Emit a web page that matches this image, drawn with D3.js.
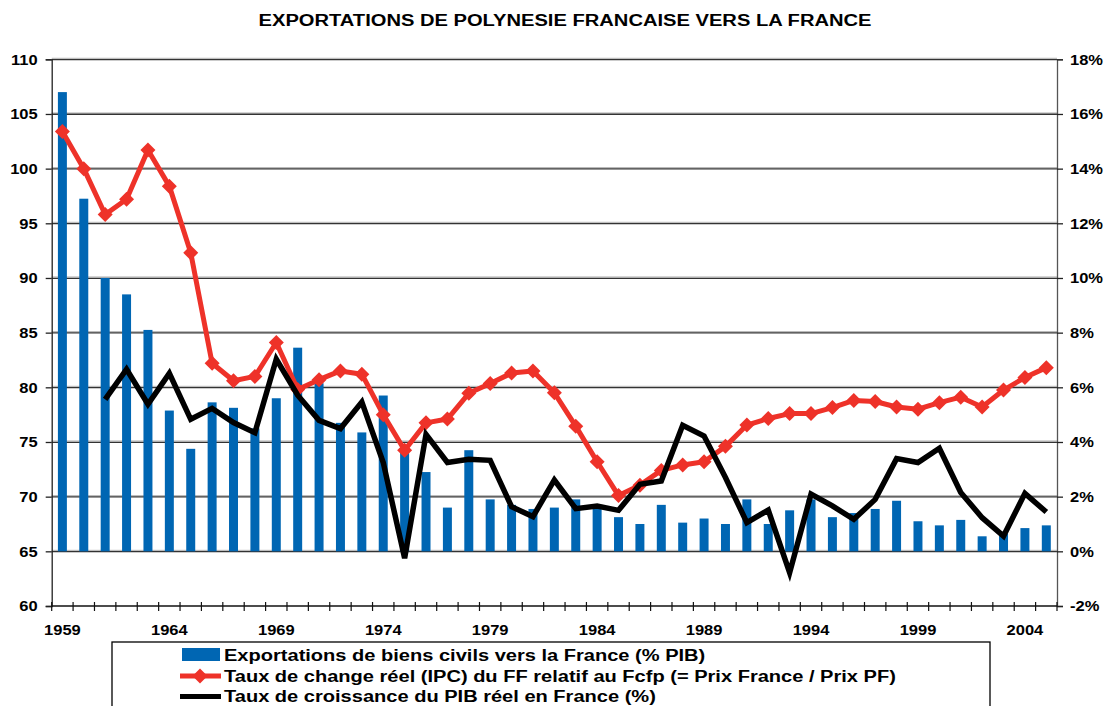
<!DOCTYPE html>
<html>
<head>
<meta charset="utf-8">
<script src="https://cdn.jsdelivr.net/npm/d3@7"></script>
<style>
  body { margin: 0; background: #fff; }
  svg { font-family: "Liberation Sans", Arial, sans-serif; font-weight: bold; }
</style>
</head>
<body>
<svg id="chart" width="1105" height="706"></svg>
<script>
// Years shown on the category axis
var years = d3.range(1959, 2006);
var yearLabels = [1959, 1964, 1969, 1974, 1979, 1984, 1989, 1994, 1999, 2004];

// Exportations de biens civils vers la France (% PIB) - right axis
var exportsPct = [16.8, 12.9, 10.0, 9.4, 8.1, 5.15, 3.75, 5.45, 5.25, 4.5,
  5.6, 7.45, 6.15, 4.7, 4.35, 5.7, 3.7, 2.9, 1.6, 3.7,
  1.9, 1.7, 1.55, 1.6, 1.9, 1.6, 1.25, 1.0, 1.7, 1.05,
  1.2, 1.0, 1.9, 1.0, 1.5, 1.9, 1.25, 1.4, 1.55, 1.85,
  1.1, 0.95, 1.15, 0.55, 0.65, 0.85, 0.95];

// Taux de change reel (IPC) du FF relatif au Fcfp - left axis
var changeReel = [103.4, 100.0, 95.8, 97.2, 101.7, 98.4, 92.3, 82.2, 80.6, 81.0,
  84.1, 79.8, 80.7, 81.5, 81.2, 77.5, 74.25, 76.75, 77.1, 79.45,
  80.35, 81.3, 81.5, 79.5, 76.45, 73.2, 70.1, 71.05, 72.4, 72.9,
  73.2, 74.6, 76.55, 77.15, 77.6, 77.6, 78.15, 78.8, 78.7, 78.2,
  78.0, 78.6, 79.1, 78.2, 79.75, 80.9, 81.8];

// Taux de croissance du PIB reel en France (%) - right axis, from 1961
var croissanceYears = d3.range(1961, 2006);
var croissancePIB = [5.56, 6.66, 5.38, 6.51, 4.83, 5.23, 4.71, 4.34, 7.03, 5.71,
  4.79, 4.49, 5.46, 3.25, -0.25, 4.28, 3.25, 3.37, 3.33, 1.63,
  1.27, 2.61, 1.56, 1.66, 1.5, 2.45, 2.57, 4.61, 4.22, 2.7,
  1.05, 1.51, -0.78, 2.09, 1.66, 1.17, 1.9, 3.39, 3.25, 3.77,
  2.15, 1.23, 0.56, 2.12, 1.44];

var leftTicks = d3.range(60, 111, 5);
var rightTicks = d3.range(-2, 19, 2);

var seriesNames = [
  "Exportations de biens civils vers la France (% PIB)",
  "Taux de change réel (IPC) du FF relatif au Fcfp (= Prix France / Prix PF)",
  "Taux de croissance du PIB réel en France (%)"
];

var BLUE = "#0066b3", RED = "#ee3229";

var svg = d3.select("#chart");
var m = { left: 51.7, right: 1057, top: 59.3, bottom: 606 };

var x = d3.scaleBand()
    .domain(years)
    .range([m.left, m.right])
    .paddingInner(0.58)
    .paddingOuter(0.29);
var step = x.step();
function cx(yr) { return x(yr) + x.bandwidth() / 2; }

var yL = d3.scaleLinear().domain([60, 110]).range([m.bottom, m.top]);
var yR = d3.scaleLinear().domain([-2, 18]).range([m.bottom, m.top]);

// The original text is a bit wider than the font, stretch it horizontally
function stretch(sel, k) {
  sel.each(function() {
    var t = d3.select(this);
    var tx = +t.attr("x") || 0, ty = +t.attr("y") || 0;
    t.attr("x", 0).attr("y", 0)
     .attr("transform", "translate(" + tx + "," + ty + ") scale(" + k + ",1)");
  });
}

// Title
svg.append("text")
    .attr("class", "title")
    .attr("x", 565).attr("y", 26)
    .attr("text-anchor", "middle")
    .style("font-size", "17px")
    .text("EXPORTATIONS DE POLYNESIE FRANCAISE VERS LA FRANCE");
stretch(svg.selectAll(".title"), 1.185);

// Gridlines (light shadow + dark line)
var grid = svg.append("g");
leftTicks.filter(function(t) { return t > 60; }).forEach(function(t) {
  grid.append("line")
      .attr("x1", m.left).attr("x2", m.right)
      .attr("y1", yL(t) - 1).attr("y2", yL(t) - 1)
      .attr("stroke", "#b0b0b0").attr("stroke-width", 1);
  grid.append("line")
      .attr("x1", m.left).attr("x2", m.right)
      .attr("y1", yL(t) + 0.3).attr("y2", yL(t) + 0.3)
      .attr("stroke", "#333").attr("stroke-width", 1.3);
});

// Left axis
var gL = svg.append("g")
    .attr("transform", "translate(" + m.left + ",0)")
    .call(d3.axisLeft(yL).tickValues(leftTicks).tickSize(6).tickPadding(8));
gL.selectAll("text").style("font-size", "15px").attr("fill", "#000")
    .style("font-family", "Liberation Sans, Arial, sans-serif");
stretch(gL.selectAll("text"), 1.1);
gL.select(".domain").attr("stroke", "#222").attr("stroke-width", 1.3);
gL.selectAll(".tick line").attr("stroke", "#222").attr("stroke-width", 1.3);

// Right axis
var gR = svg.append("g")
    .attr("transform", "translate(" + m.right + ",0)")
    .call(d3.axisRight(yR).tickValues(rightTicks).tickSize(6).tickPadding(7)
      .tickFormat(function(d) { return d + "%"; }));
gR.selectAll("text").style("font-size", "15px").attr("fill", "#000")
    .style("font-family", "Liberation Sans, Arial, sans-serif");
stretch(gR.selectAll("text"), 1.1);
gR.select(".domain").attr("stroke", "#555").attr("stroke-width", 1.3);
gR.selectAll(".tick line").attr("stroke", "#222").attr("stroke-width", 1.3);

// Bars (right axis, baseline 0%)
svg.append("g").selectAll("rect")
    .data(years)
    .enter().append("rect")
    .attr("x", function(d) { return x(d); })
    .attr("width", x.bandwidth())
    .attr("y", function(d, i) { return yR(exportsPct[i]); })
    .attr("height", function(d, i) { return yR(0) - yR(exportsPct[i]); })
    .attr("fill", BLUE);

// X axis line and crossing ticks at category boundaries
var gX = svg.append("g");
gX.append("line")
    .attr("x1", m.left).attr("x2", m.right)
    .attr("y1", m.bottom).attr("y2", m.bottom)
    .attr("stroke", "#111").attr("stroke-width", 1.5);
gX.selectAll("line.tk")
    .data(d3.range(years.length + 1))
    .enter().append("line")
    .attr("class", "tk")
    .attr("x1", function(i) { return m.left + i * step; })
    .attr("x2", function(i) { return m.left + i * step; })
    .attr("y1", m.bottom - 4).attr("y2", m.bottom + 5)
    .attr("stroke", "#111").attr("stroke-width", 1.2);
gX.selectAll("text")
    .data(yearLabels)
    .enter().append("text")
    .attr("x", function(d) { return cx(d); })
    .attr("y", 635)
    .attr("text-anchor", "middle")
    .style("font-size", "15px")
    .text(function(d) { return d; });
stretch(gX.selectAll("text"), 1.1);

// Red line with diamond markers (left axis)
var diamond = "M0,-7.5L7.5,0L0,7.5L-7.5,0Z";
var redLine = d3.line()
    .x(function(d, i) { return cx(years[i]); })
    .y(function(d) { return yL(d); });
svg.append("path")
    .datum(changeReel)
    .attr("d", redLine)
    .attr("fill", "none")
    .attr("stroke", RED)
    .attr("stroke-width", 5)
    .attr("stroke-linejoin", "round");
svg.append("g").selectAll("path")
    .data(changeReel)
    .enter().append("path")
    .attr("d", diamond)
    .attr("transform", function(d, i) { return "translate(" + cx(years[i]) + "," + yL(d) + ")"; })
    .attr("fill", RED);

// Black line (right axis)
var blackLine = d3.line()
    .x(function(d, i) { return cx(croissanceYears[i]); })
    .y(function(d) { return yR(d); });
svg.append("path")
    .datum(croissancePIB)
    .attr("d", blackLine)
    .attr("fill", "none")
    .attr("stroke", "#000")
    .attr("stroke-width", 5.5)
    .attr("stroke-linejoin", "miter");

// Legend
var lg = svg.append("g");
lg.append("rect")
    .attr("x", 112).attr("y", 642)
    .attr("width", 878).attr("height", 80)
    .attr("fill", "#fff").attr("stroke", "#000").attr("stroke-width", 1.3);
var rowY = [661, 681.5, 702];
lg.append("rect")
    .attr("x", 182).attr("y", rowY[0] - 13)
    .attr("width", 38).attr("height", 13)
    .attr("fill", BLUE);
lg.append("line")
    .attr("x1", 180).attr("x2", 221)
    .attr("y1", rowY[1] - 5.5).attr("y2", rowY[1] - 5.5)
    .attr("stroke", RED).attr("stroke-width", 5);
lg.append("path")
    .attr("d", diamond)
    .attr("transform", "translate(200," + (rowY[1] - 5.5) + ")")
    .attr("fill", RED);
lg.append("line")
    .attr("x1", 180).attr("x2", 221)
    .attr("y1", rowY[2] - 5.5).attr("y2", rowY[2] - 5.5)
    .attr("stroke", "#000").attr("stroke-width", 5);
lg.selectAll("text.lt")
    .data(seriesNames)
    .enter().append("text")
    .attr("class", "lt")
    .attr("x", 224)
    .attr("y", function(d, i) { return rowY[i]; })
    .style("font-size", "17px")
    .text(function(d) { return d; });
stretch(lg.selectAll("text.lt"), 1.18);
</script>
</body>
</html>
